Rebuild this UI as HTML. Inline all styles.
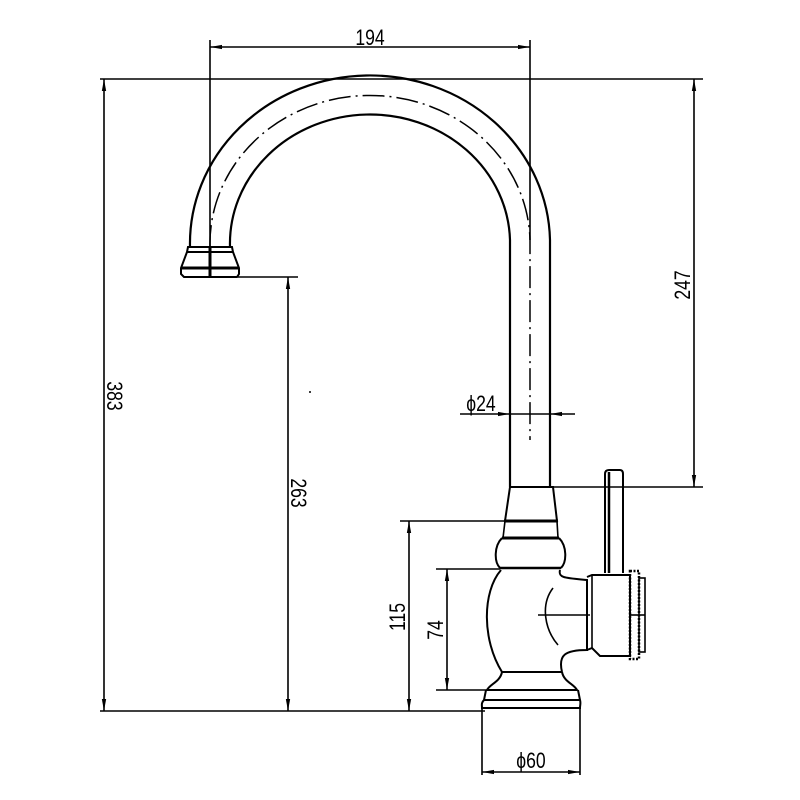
<!DOCTYPE html>
<html><head><style>body{margin:0;background:#fff}svg{display:block}</style></head><body>
<svg width="800" height="800" viewBox="0 0 800 800" xmlns="http://www.w3.org/2000/svg" font-family="Liberation Sans, sans-serif" font-size="22">
<defs><marker id="a" viewBox="0 0 10 10" refX="10" refY="5" markerWidth="12" markerHeight="12" orient="auto-start-reverse" markerUnits="userSpaceOnUse"><path d="M0,3.2 L10,5 L0,6.8z" fill="#000"/></marker></defs>
<g stroke="#000" fill="none" stroke-width="1.6">
<!-- spout -->
<path d="M190,247 A180,168 0 0 1 550,240 L550,487" stroke-width="2.2"/>
<path d="M230,247 A140,129 0 0 1 510,240 L510,487" stroke-width="2.2"/>
<path d="M210,247 A160,148 0 0 1 530,240 L530,440" stroke-dasharray="22,5,2,5" stroke-width="1.5"/>
<!-- nozzle -->
<path d="M188,247 L232,247 L233,252 L187,252 Z M187,252 L181,268 L181,274 L184,277 L237,277 L239,274 L239,268 L233,252" stroke-width="2"/>
<line x1="182" y1="268" x2="238" y2="268" stroke-width="3"/>
<line x1="210" y1="247" x2="210" y2="277" stroke-width="3"/>
<!-- collar -->
<path d="M510,487 L553,487 L557,521 L505,521 Z" stroke-width="2"/>
<line x1="504" y1="521" x2="558" y2="521" stroke-width="3"/>
<path d="M505,521 L503,538 M557,521 L558,538"/>
<line x1="502" y1="538" x2="559" y2="538" stroke-width="3"/>
<path d="M502,538 C494,546 494,562 500,568 M559,538 C567,546 567,562 561,568" stroke-width="2"/>
<line x1="500" y1="568" x2="561" y2="568" stroke-width="2.5"/>
<!-- body -->
<path d="M501,570 C482,592 482,640 502,672" stroke-width="2"/>
<path d="M560,570 C558,578 565,578 587,580 L587,650 C565,650 558,655 562,672" stroke-width="2"/>
<line x1="502" y1="672" x2="562" y2="672" stroke-width="2"/>
<path d="M502,672 C500,682 490,684 487,690 L577,690 C574,684 564,682 562,672" stroke-width="2"/>
<path d="M486,690 L484,700 L580,700 L578,690 M484,700 C481,703 482,705 482,708 L580,708 C580,705 581,703 580,700" stroke-width="2"/>
<path d="M482,708 L482,775 M580,708 L580,775" stroke-width="1.6"/>
<path d="M553,588 C540,605 545,630 558,645"/>
<line x1="538" y1="615" x2="590" y2="615"/>
<!-- handle -->
<path d="M587,577 L592,575 L630,575 L630,656 L600,656 L592,648 L587,650" stroke-width="2"/>
<line x1="592" y1="575" x2="592" y2="648"/>
<rect x="630" y="571" width="9" height="88" stroke-width="2.5" stroke-dasharray="2,1.5"/>
<rect x="639" y="578" width="6" height="74" stroke-width="1.6"/>
<line x1="630" y1="615" x2="645" y2="615"/>
<path d="M605,573 L605,474 Q605,470 609,470 L620,470 Q623,470 623,474 L623,573" stroke-width="2"/>
<line x1="609" y1="472" x2="609" y2="573" stroke-width="2.5"/>
<!-- dimension extension lines -->
<line x1="100" y1="79" x2="703" y2="79"/>
<line x1="100" y1="711" x2="485" y2="711"/>
<line x1="210" y1="40" x2="210" y2="247"/>
<line x1="530" y1="40" x2="530" y2="240"/>
<line x1="238" y1="277" x2="298" y2="277"/>
<line x1="553" y1="487" x2="703" y2="487"/>
<line x1="400" y1="521" x2="505" y2="521"/>
<line x1="436" y1="569" x2="500" y2="569"/>
<line x1="436" y1="690" x2="488" y2="690"/>
<!-- dims -->
<line x1="210" y1="47" x2="530" y2="47" marker-start="url(#a)" marker-end="url(#a)"/>
<line x1="104" y1="79" x2="104" y2="711" marker-start="url(#a)" marker-end="url(#a)"/>
<line x1="288" y1="277" x2="288" y2="711" marker-start="url(#a)" marker-end="url(#a)"/>
<line x1="694" y1="79" x2="694" y2="487" marker-start="url(#a)" marker-end="url(#a)"/>
<line x1="409" y1="521" x2="409" y2="711" marker-start="url(#a)" marker-end="url(#a)"/>
<line x1="447" y1="569" x2="447" y2="690" marker-start="url(#a)" marker-end="url(#a)"/>
<line x1="482" y1="772" x2="580" y2="772" marker-start="url(#a)" marker-end="url(#a)"/>
<line x1="460" y1="414" x2="510" y2="414" marker-end="url(#a)"/>
<line x1="575" y1="414" x2="550" y2="414" marker-end="url(#a)"/>
<line x1="510" y1="414" x2="550" y2="414"/>
</g>
<circle cx="310" cy="392" r="1" fill="#000"/>
<g fill="#000">
<text transform="translate(370,45) scale(0.8,1)" text-anchor="middle">194</text>
<text transform="translate(107,396) rotate(90) scale(0.8,1)" text-anchor="middle">383</text>
<text transform="translate(291,493) rotate(90) scale(0.8,1)" text-anchor="middle">263</text>
<text transform="translate(690,285) rotate(-90) scale(0.8,1)" text-anchor="middle">247</text>
<text transform="translate(405,617) rotate(-90) scale(0.8,1)" text-anchor="middle">115</text>
<text transform="translate(443,630) rotate(-90) scale(0.8,1)" text-anchor="middle">74</text>
<text transform="translate(531,768) scale(0.8,1)" text-anchor="middle">ϕ60</text>
<text transform="translate(481,411) scale(0.8,1)" text-anchor="middle">ϕ24</text>
</g>
</svg>
</body></html>
